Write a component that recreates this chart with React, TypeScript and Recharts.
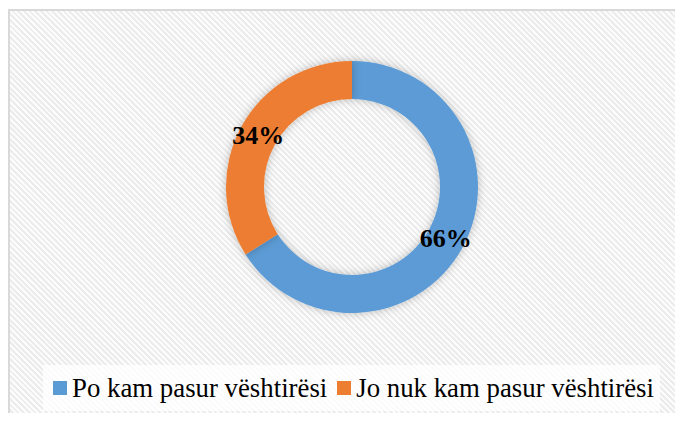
import React from 'react';
import { PieChart, Pie, Cell, Legend } from 'recharts';

const categories = ['Po kam pasur vështirësi', 'Jo nuk kam pasur vështirësi'];
const values = [66, 34];
const colors = ['#5B9BD5', '#ED7D31'];

const data = categories.map((name, i) => ({ name, value: values[i] }));

const RAD = Math.PI / 180;
const SERIF = 'Liberation Serif, serif';

const renderLabel = (props: any) => {
  const { cx, cy, midAngle, innerRadius, outerRadius, value } = props;
  const r = (innerRadius + outerRadius) / 2;
  const x = cx + r * Math.cos(-midAngle * RAD);
  const y = cy + r * Math.sin(-midAngle * RAD);
  return (
    <text
      x={x}
      y={y}
      textAnchor="middle"
      dominantBaseline="central"
      fill="#000"
      style={{ fontFamily: SERIF, fontWeight: 'bold', fontSize: 26 }}
    >
      {`${value}%`}
    </text>
  );
};

const renderLegend = (props: any) => {
  const payload = [...(props.payload || [])].sort(
    (a: any, b: any) => categories.indexOf(a.value) - categories.indexOf(b.value)
  );
  return (
    <div
      style={{
        display: 'flex',
        justifyContent: 'center',
        alignItems: 'center',
        height: '100%',
        fontFamily: SERIF,
        fontSize: 26.8,
        color: '#000',
        paddingLeft: 4,
        boxSizing: 'border-box',
      }}
    >
      {payload.map((entry: any, i: number) => (
        <div key={i} style={{ display: 'flex', alignItems: 'center', marginRight: i === 0 ? 10 : 0 }}>
          <span
            style={{
              display: 'inline-block',
              width: 14,
              height: 14,
              background: entry.color,
              marginRight: 5,
            }}
          />
          <span style={{ lineHeight: 1, fontFamily: SERIF }}>{entry.value}</span>
        </div>
      ))}
    </div>
  );
};

export default function App() {
  return (
    <div style={{ width: 675, height: 405, overflow: 'hidden', paddingTop: 1, boxSizing: 'border-box', fontFamily: SERIF }}>
      <div
        style={{
          position: 'relative',
          width: 700,
          height: 430,
          boxSizing: 'border-box',
          border: '2px solid #d9d9d9',
          background: 'repeating-linear-gradient(45deg, #fcfcfc 0px, #fcfcfc 2px, #ececec 2px, #ececec 4px)',
        }}
      >
        <PieChart width={696} height={426} margin={{ top: 0, right: 0, bottom: 0, left: 0 }}>
          <defs>
            <filter id="ringShadow" x="-20%" y="-20%" width="140%" height="140%">
              <feDropShadow dx="0" dy="0" stdDeviation="4" floodColor="#000" floodOpacity="0.25" />
            </filter>
          </defs>
          <Pie
            data={data}
            dataKey="value"
            nameKey="name"
            cx={342}
            cy={176}
            innerRadius={88}
            outerRadius={126}
            startAngle={90}
            endAngle={-270}
            stroke="none"
            label={renderLabel}
            labelLine={false}
            isAnimationActive={false}
          >
            {data.map((d, i) => (
              <Cell key={d.name} fill={colors[i]} filter="url(#ringShadow)" />
            ))}
          </Pie>
          <Legend
            verticalAlign="bottom"
            content={renderLegend}
            wrapperStyle={{
              left: 33,
              top: 354,
              bottom: 'auto',
              width: 617,
              height: 46,
              background: 'rgba(255,255,255,0.8)',
            }}
          />
        </PieChart>
      </div>
    </div>
  );
}
